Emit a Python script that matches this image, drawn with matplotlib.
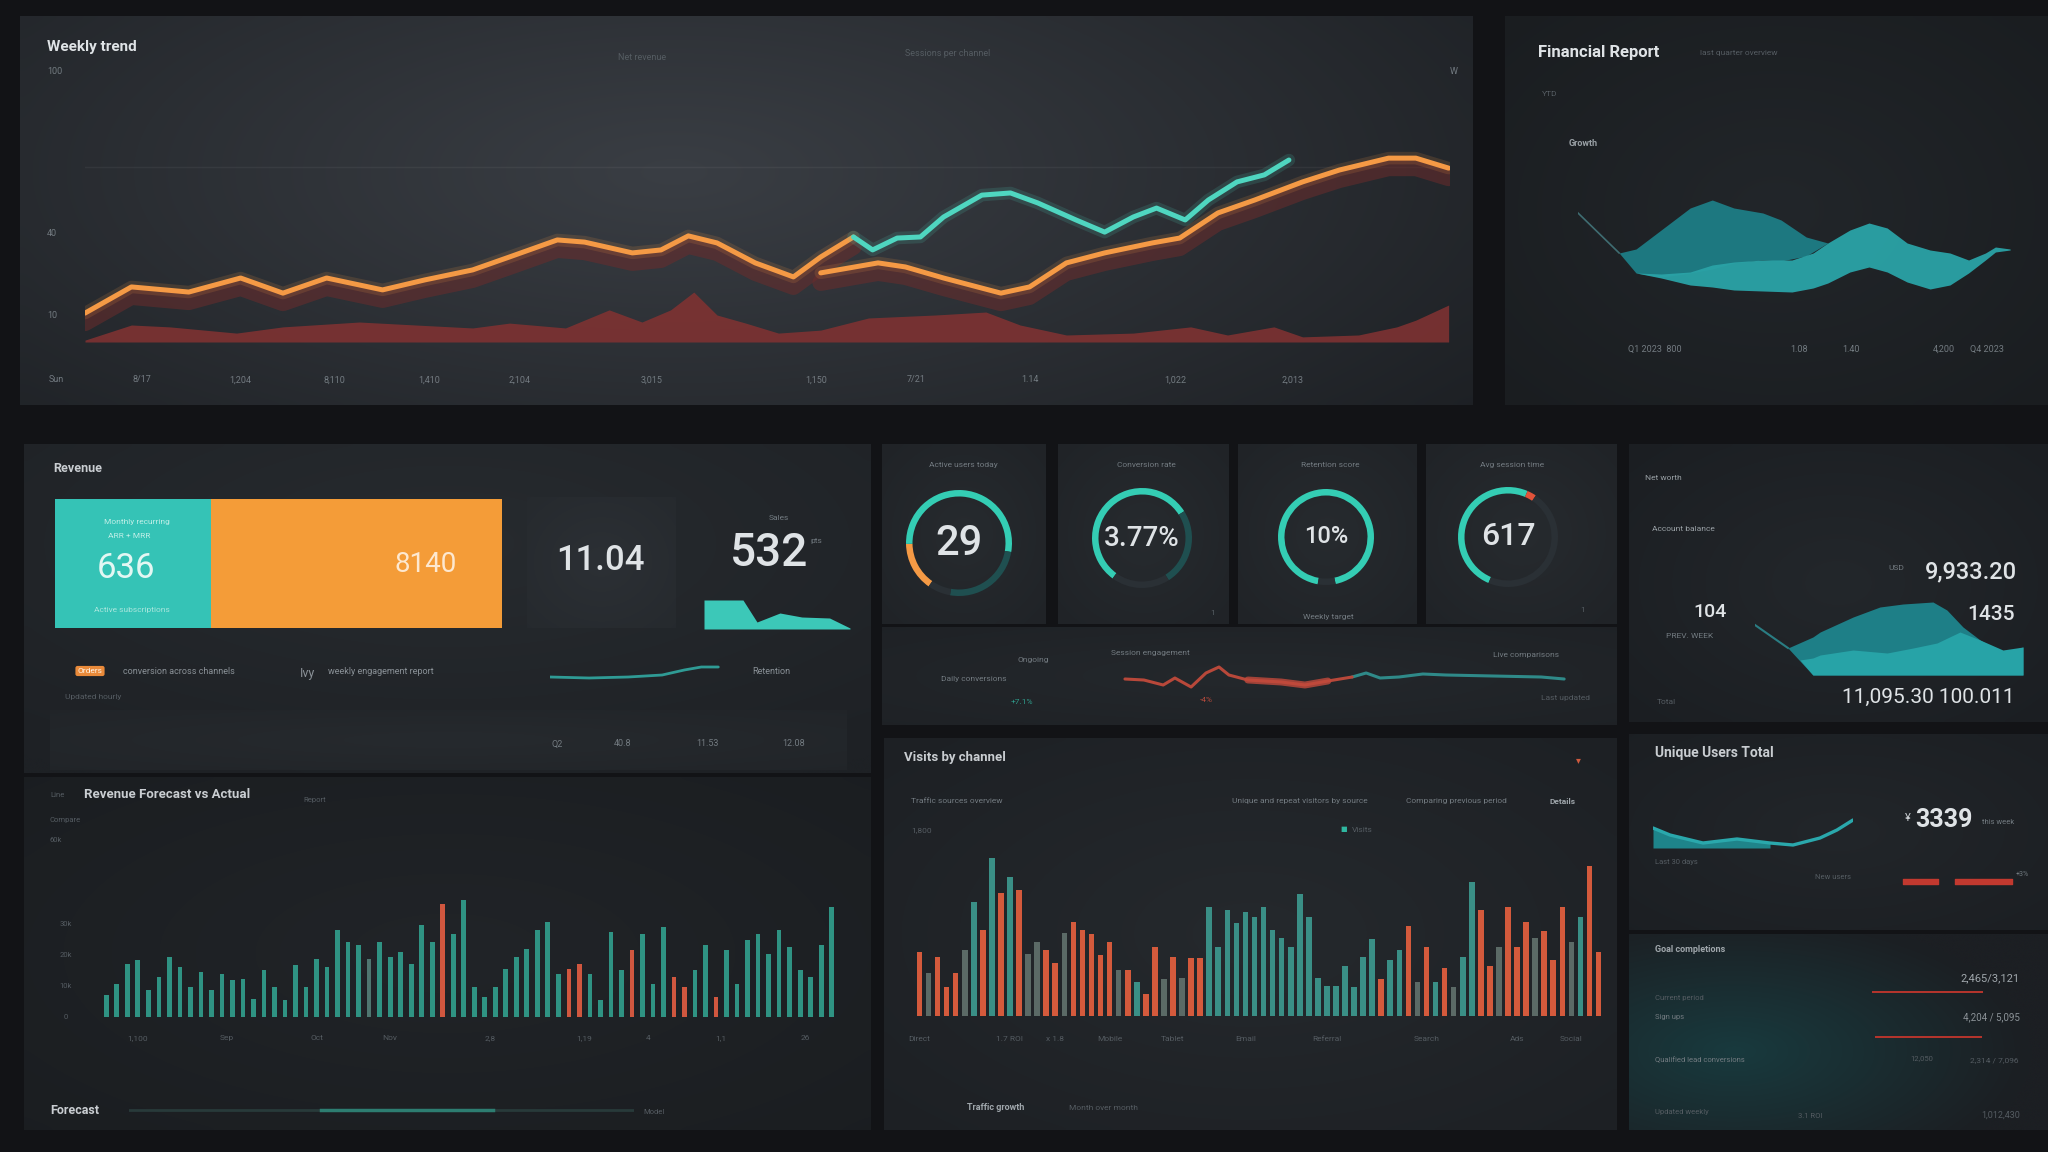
import numpy as np
import matplotlib
matplotlib.use("Agg")
import matplotlib.pyplot as plt
from matplotlib.colors import to_rgb
from matplotlib import transforms

plt.rcParams['font.family'] = ['Roboto', 'DejaVu Sans']

# ======================= DATA =======================
# Weekly trend (top-left): x = % of period, y = index
trend_a_x = [0, 3.4, 7.6, 11.4, 14.5, 17.7, 21.8, 24.9, 28.4, 31.1, 34.6, 36.6, 40.1, 42.2, 44.2, 46.3, 49.1, 51.9, 53.9, 56.3]
trend_a_y = [10.7, 20.4, 18.5, 23.7, 18.1, 23.7, 19.3, 23.0, 26.7, 31.5, 37.8, 37.0, 33.0, 34.1, 39.3, 36.7, 29.3, 24.1, 31.5, 38.9]
trend_t_x = [56.3, 57.7, 59.5, 61.2, 62.9, 65.7, 67.8, 69.8, 72.6, 74.7, 76.8, 78.5, 80.6, 82.3, 84.4, 86.4, 88.2]
trend_t_y = [38.9, 34.1, 38.5, 38.9, 46.3, 54.4, 55.2, 51.5, 45.2, 40.7, 46.3, 49.6, 45.2, 52.6, 59.3, 61.9, 67.4]
trend_b_x = [53.9, 58.1, 60.1, 62.9, 67.1, 69.2, 71.9, 74.7, 78.2, 80.2, 83.0, 85.7, 89.2, 91.9, 95.5, 97.5, 99.9]
trend_b_y = [25.6, 29.3, 27.8, 23.7, 18.1, 20.4, 29.3, 33.0, 36.7, 38.5, 47.8, 52.6, 59.3, 63.7, 68.1, 68.1, 64.4]
volume_x = [0, 3.4, 6.2, 11.1, 14.5, 20.1, 24.2, 28.4, 31.1, 35.2, 38.4, 40.8, 42.9, 44.6, 46.3, 48.4, 50.8,
            53.9, 57.4, 62.3, 66.0, 68.5, 71.9, 76.8, 81.0, 83.7, 87.1, 89.2, 93.3, 96.1, 97.5, 99.9]
volume_y = [0.7, 6.3, 5.6, 3.3, 5.6, 7.4, 6.3, 5.2, 7.0, 5.2, 11.9, 7.4, 11.9, 18.5, 10.0, 7.0, 3.3,
            4.4, 8.9, 10.0, 11.1, 6.3, 2.6, 3.3, 5.6, 2.6, 5.6, 1.9, 2.6, 5.6, 8.1, 13.7]
trend_xticks = [-2.1, 4.2, 11.4, 18.3, 25.2, 31.8, 41.5, 53.6, 60.9, 69.2, 79.9, 88.5]
trend_xlabels = ['Sun', '8/17', '1,204', '8,110', '1,410', '2,104', '3,015', '1,150', '7/21', '1.14', '1,022', '2,013']
trend_yticks = [100, 40, 10]
trend_ylabels = ['100', '40', '10']

# Financial report ribbons (top-right)
fin_lead_x = [0, 9.5]
fin_lead_y = [87, 47]
fin_back_x = [9.5, 13.4, 19.2, 25.9, 31, 36, 42.7, 46.9, 52.7, 57.7]
fin_back_top = [47, 51, 70, 92, 100, 92, 87, 80, 63, 57]
fin_back_bot = [47, 27, 23, 27, 31, 37, 40, 39, 44, 57]
fin_front_x = [13.4, 19.2, 25.9, 31, 36, 42.7, 49.4, 54.3, 57.7, 62.8, 67.2, 71.4, 76, 81.3, 85.9, 90.2, 94.1, 96.4, 99.8]
fin_front_top = [27, 26, 28, 35, 38, 40, 40, 47, 57, 70, 77, 72, 57, 50, 47, 40, 47, 53, 51]
fin_front_bot = [27, 22, 15, 13, 10, 9, 8, 12, 17, 28, 33, 28, 18, 11, 15, 27, 40, 48, 50]
fin_xticks = [17.8, 51.0, 63.0, 84.5, 94.5]
fin_xlabels = ['Q1 2023  800', '1.08', '1.40', '4,200', 'Q4 2023']

# KPI block
kpi_split = [35, 65]
kpi_split_labels = ['636', '8140']
kpi_mid = '11.04'
kpi_right = '532'
spark_x = [0, 26.7, 36.3, 52, 67, 86, 100]
spark_y = [29, 29, 7, 16, 12, 11, 1]
mini_x = [0, 23, 46, 66, 79, 89, 99]
mini_y = [5, 4, 5, 7, 12, 15, 15]
quarter_labels = ['Q2', '40.8', '11.53', '12.08']

# Gauges
gauge_labels = ['29', '3.77%', '10%', '617']
gauge_titles = ['Active users today', 'Conversion rate', 'Retention score', 'Avg session time']
gauge_segments = [[15, 53, 25, 7], [56, 25, 19], [94, 6], [50, 3, 47]]

# Strip line under gauges
strip_x = [1.1, 5.3, 9.6, 12.2, 15.8, 19.1, 22, 24.2, 28.4, 35.8, 41.1, 46.2, 51.6, 54.7, 57.8, 62, 67.3, 72.4, 82.9, 93.6, 98.7]
strip_y = [13, 12, 7, 14, 5, 19, 25, 17, 12, 10, 7, 11, 15, 19, 14, 15, 18, 17, 16, 15, 13]

# Right-middle area chart
rm_lead_x = [0, 12.3]
rm_lead_y = [50, 27]
rm_back_x = [12.3, 21.6, 24.3, 36.6, 46.6, 55.2, 66.4, 71.6, 77.6, 84, 90.3, 94, 100]
rm_back_top = [27, 38, 43, 58, 68, 71, 73, 65, 48, 35, 25, 23, 28]
rm_back_bot = [27, 0, 0, 0, 0, 0, 0, 0, 0, 0, 0, 0, 0]
rm_front_x = [16.8, 21.6, 24.3, 36.6, 49.3, 59, 67.9, 76.5, 84, 92.5, 100]
rm_front_top = [15, 17, 20, 25, 22, 27, 32, 43, 35, 25, 28]
rm_front_bot = [15, 0, 0, 0, 0, 0, 0, 0, 0, 0, 0]

# Bottom-left bars (thousands)
bl_vals = [7.1, 10.6, 17.1, 18.4, 8.7, 12.9, 19.4, 16.1, 9.7, 14.5,
           8.7, 13.9, 11.9, 12.3, 5.8, 15.2, 9.7, 5.5, 16.8, 9.7,
           18.7, 16.1, 28.1, 24.2, 23.2, 18.7, 24.2, 19.4, 21.0, 17.1,
           29.7, 24.2, 36.5, 26.8, 37.7, 9.7, 6.5, 9.7, 15.5, 19.4,
           21.9, 28.1, 30.6, 13.9, 15.5, 17.1, 13.9, 5.5, 27.4, 15.2,
           21.6, 26.8, 10.6, 29.0, 12.9, 9.7, 15.2, 23.2, 6.5, 21.6,
           10.6, 24.8, 26.8, 20.3, 28.1, 22.6, 15.2, 12.9, 23.2, 35.5]
bl_grp = ("tttttttttt" "tttttttttt" "tttttgtttt" "tt" "r" "ttttttttttt" "rr" "tttt" "r"
          "ttt" "rr" "tt" "r" "ttttttttttt")
bl_yticks = [0, 10, 20, 30]
bl_ylabels = ['0', '10k', '20k', '30k']
bl_xlabels = ['1,100', 'Sep', 'Oct', 'Nov', '2,8', '1,19', '4', '1,1', '26']
bl_xpos = [3, 11.5, 20, 27, 36.5, 45.5, 51.5, 58.5, 66.5]

# Bottom-middle bars
bm_vals = [40, 27, 37, 18, 27, 41, 71, 54, 99, 77,
           87, 79, 39, 46, 41, 33, 52, 59, 54, 51,
           38, 46, 29, 29, 21, 14, 43, 23, 37, 24,
           36, 36, 68, 43, 66, 58, 65, 62, 68, 54,
           49, 43, 76, 62, 24, 19, 19, 31, 18, 37,
           48, 23, 35, 41, 56, 21, 43, 21, 30, 18,
           37, 84, 66, 31, 43, 68, 43, 59, 49, 53,
           35, 68, 46, 62, 94, 40]
bm_grp = ("rgrrrgtrtr" "trggrrgrrr" "rrgrtrrgrg" "rrtttttttt" "tttttttttt"
          "trttrgrtrg" "ttrrgrrrgr" "rrgtrr")
bm_xlabels = ['Direct', '1.7 ROI', 'x 1.8', 'Mobile', 'Tablet', 'Email', 'Referral', 'Search', 'Ads', 'Social']
bm_xpos = [0, 10, 15, 21, 28, 36, 45, 56, 66, 72]

# Bottom-right
users_x = [0, 8.5, 25, 42, 58.5, 70, 83.5, 92, 100]
users_y = [22, 15, 7, 11, 7, 5, 12, 20, 30]
users_bar_left = [2.6, 47.8]
users_bar_len = [30.4, 49.6]
goal_rows = [58, 13]
goal_left = [8.6, 10.7]
goal_len = [79.3, 76.4]
forecast_track = [0, 100]
forecast_done = [38, 72]

# ======================= STYLE / LAYOUT =======================
W, H = 2048, 1152
TEAL = '#3ccdb9'
ORANGE = '#f59a45'
RED = '#cf5a3e'
TXT = '#dfe3e6'
DIM = '#737b81'
DIMMER = '#555c62'

fig = plt.figure(figsize=(W / 100, H / 100), dpi=100)
fig.patch.set_facecolor('#121316')


def rect(x0, y0, x1, y1):
    return [x0 / W, 1 - y1 / H, (x1 - x0) / W, (y1 - y0) / H]


def panel(box, c_in, c_out, cx=0.5, cy=0.5, sx=0.8, sy=0.8):
    ax = fig.add_axes(rect(*box), zorder=0)
    ax.set_axis_off()
    yy, xx = np.mgrid[0:1:80j, 0:1:120j]
    t = np.clip(np.sqrt(((xx - cx) / sx) ** 2 + ((yy - cy) / sy) ** 2), 0, 1)[..., None]
    img = np.array(to_rgb(c_in)) * (1 - t) + np.array(to_rgb(c_out)) * t
    ax.imshow(img, extent=[0, 1, 0, 1], aspect='auto', interpolation='bicubic')
    return ax


def chart(box, xlim, ylim):
    ax = fig.add_axes(rect(*box), zorder=2)
    ax.set_xlim(*xlim)
    ax.set_ylim(*ylim)
    ax.set_axis_off()
    return ax


def T(x, y, s, size=6.5, color=DIM, weight='normal', ha='left', va='center', **kw):
    fig.text(x / W, 1 - y / H, s, fontsize=size, color=color, fontweight=weight,
             ha=ha, va=va, **kw)


# ---------------- panels ----------------
panel((20, 16, 1473, 405), '#3a3e44', '#1b1e22', cx=0.45, cy=0.4, sx=0.75, sy=1.1)
panel((1505, 16, 2048, 405), '#22262a', '#191c1f', cx=0.5, cy=0.5)
panel((24, 444, 871, 773), '#272b2f', '#1e2125', cx=0.5, cy=0.3)
for box in [(882, 444, 1046, 624), (1058, 444, 1229, 624), (1238, 444, 1417, 624), (1426, 444, 1617, 624)]:
    panel(box, '#272b2f', '#1f2226')
panel((882, 627, 1617, 725), '#24282c', '#1e2125')
panel((1629, 444, 2048, 722), '#23272b', '#1a1d21')
panel((24, 777, 871, 1130), '#212428', '#1a1d20', cx=0.5, cy=0.5)
panel((884, 738, 1617, 1130), '#25292d', '#1c1f23')
panel((1629, 734, 2048, 930), '#22262a', '#1b1e22')
panel((1629, 934, 2048, 1130), '#183a3e', '#1c1f23', cx=0.25, cy=0.6, sx=0.7, sy=0.7)

# ---------------- Weekly trend ----------------
ax = chart((85, 72, 1450, 342), (0, 100), (0, 100))
ax.axhline(64.8, color='white', alpha=0.05, lw=1)
ax.fill_between(volume_x, 0, volume_y, color='#7e3232', alpha=0.9, lw=0)
shadow = transforms.offset_copy(ax.transData, fig=fig, x=0, y=-7, units='points')
for xs, ys in [(trend_a_x, trend_a_y), (trend_b_x, trend_b_y)]:
    ax.plot(xs, ys, color='#6b2c2c', lw=12, alpha=0.55, transform=shadow,
            solid_joinstyle='round', solid_capstyle='round')
for xs, ys, c in [(trend_a_x, trend_a_y, ORANGE), (trend_b_x, trend_b_y, ORANGE), (trend_t_x, trend_t_y, '#4fd6c0')]:
    ax.plot(xs, ys, color=c, lw=9, alpha=0.15, solid_capstyle='round')
    ax.plot(xs, ys, color=c, lw=3.6, solid_joinstyle='round', solid_capstyle='round')
for xv, lab in zip(trend_xticks, trend_xlabels):
    ax.text(xv, -0.14, lab, transform=ax.get_xaxis_transform(), fontsize=6.5, color=DIM,
            ha='center', va='center')
for yv, lab in zip(trend_yticks, trend_ylabels):
    ax.text(-0.028, yv, lab, transform=ax.get_yaxis_transform(), fontsize=6.5, color=DIM,
            ha='left', va='center')
T(47, 47, 'Weekly trend', 11, TXT, 'bold')
T(642, 57, 'Net revenue', 6.5, DIMMER, ha='center')
T(948, 53, 'Sessions per channel', 6.5, DIMMER, ha='center')
T(1454, 71, 'W', 6.5, DIM, ha='center')

# ---------------- Financial report ----------------
ax = chart((1578, 200, 2011, 300), (0, 100), (0, 100))
ax.plot(fin_lead_x, fin_lead_y, color='#3f6d72', lw=1.2)
ax.fill_between(fin_back_x, fin_back_bot, fin_back_top, color='#1d7880', lw=0)
ax.fill_between(fin_front_x, fin_front_bot, fin_front_top, color='#2aa3a7', alpha=0.95, lw=0)
for xv, lab in zip(fin_xticks, fin_xlabels):
    ax.text(xv, -0.49, lab, transform=ax.get_xaxis_transform(), fontsize=6.5, color=DIM,
            ha='center', va='center')
T(1538, 52, 'Financial Report', 12, TXT, 'bold')
T(1700, 53, 'last quarter overview', 6, DIMMER)
T(1542, 94, 'YTD', 6, DIMMER)
T(1569, 144, 'Growth', 6.5, '#9aa1a6', 'bold')

# ---------------- KPI block ----------------
T(53, 469, 'Revenue', 9, '#c9cdd1', 'bold')
ax = chart((55, 499, 502, 628), (0, 100), (-0.5, 0.5))
ax.barh([0], [kpi_split[0]], height=1, color='#35c3b6', lw=0)
ax.barh([0], [kpi_split[1]], left=[kpi_split[0]], height=1, color='#f49c38', lw=0)
T(137, 522, 'Monthly recurring', 6, '#bfeee7', ha='center')
T(129, 536, 'ARR + MRR', 6, '#bfeee7', ha='center')
T(126, 568, kpi_split_labels[0], 25, '#e3f7f3', ha='center')
T(132, 610, 'Active subscriptions', 6, '#a9e6dd', ha='center')
T(426, 565, kpi_split_labels[1], 20, '#fde8d0', ha='center')
panel((527, 497, 676, 628), '#2c3035', '#25292d')
T(600, 560, kpi_mid, 25, TXT, 'medium', ha='center')
T(779, 518, 'Sales', 6, DIM, ha='center')
T(769, 553, kpi_right, 33, TXT, 'medium', ha='center')
T(816, 541, 'pts', 6, DIM, ha='center')
ax = chart((704, 595, 850, 629), (0, 100), (0, 34))
ax.fill_between(spark_x, 0, spark_y, color='#3cc8b8', lw=0)
T(90, 671, 'Orders', 6, '#fff3e6', ha='center',
  bbox=dict(boxstyle='round,pad=0.25', fc='#e98a3a', ec='none'))
T(123, 671, 'conversion across channels', 6.5, '#8a9197')
T(300, 673, 'Ivy', 9, '#8a9197')
T(328, 671, 'weekly engagement report', 6.5, '#8a9197')
T(752, 671, 'Retention', 6.5, '#8a9197')
T(65, 697, 'Updated hourly', 6, DIMMER)
ax = chart((550, 662, 720, 682), (0, 100), (0, 20))
ax.plot(mini_x, mini_y, color='#2f9b95', lw=2, solid_capstyle='round')
panel((50, 710, 847, 770), '#262a2e', '#212428')
for xv, lab in zip([557, 623, 707, 794], quarter_labels):
    T(xv, 744, lab, 6.5, DIM, ha='center')

# ---------------- Gauges ----------------
g_centers = [(959, 543, 53), (1142, 538, 50), (1326, 537, 48), (1508, 537, 50)]
g_starts = [235, 234, 260, 247]
g_colors = [[ORANGE, '#34cdb4', '#1f4f50', '#2a3035'],
            ['#34cdb4', '#1f4f50', '#2a3035'],
            ['#34cdb4', '#2a3035'],
            ['#34cdb4', '#e2533a', '#2a3035']]
g_sizes = [30, 20, 17, 23]
for (cx, cy, r), segs, cols, st, lab, tt, fs in zip(g_centers, gauge_segments, g_colors, g_starts,
                                                   gauge_labels, gauge_titles, g_sizes):
    s = 1.2 * r
    ax = fig.add_axes(rect(cx - s, cy - s, cx + s, cy + s), zorder=2)
    ax.pie(segs, colors=cols, startangle=st, counterclock=False, radius=1,
           wedgeprops=dict(width=6.5 / r, edgecolor='none'))
    ax.set_xlim(-1.2, 1.2)
    ax.set_ylim(-1.2, 1.2)
    T(cx, cy, lab, fs, TXT, 'medium', ha='center')
    T(cx + 4, 465, tt, 6, DIM, ha='center')
T(1328, 617, 'Weekly target', 6, DIM, ha='center')
T(1213, 613, '1', 6, DIMMER, ha='center')
T(1583, 610, '1', 6, DIMMER, ha='center')

# ---------------- strip line ----------------
ax = chart((1120, 660, 1570, 692), (0, 100), (0, 32))
ax.plot(strip_x[12:], strip_y[12:], color='#2f8a89', lw=2.2, solid_capstyle='round')
ax.plot(strip_x[:13], strip_y[:13], color='#b8483a', lw=2.2, solid_capstyle='round')
ax.plot(strip_x[8:12], strip_y[8:12], color='#c24a3c', lw=5, alpha=0.8, solid_capstyle='round')
T(941, 679, 'Daily conversions', 6, DIM)
T(1017, 660, 'Ongoing', 6, DIM)
T(1111, 653, 'Session engagement', 6, DIM)
T(1493, 655, 'Live comparisons', 6, DIM)
T(1541, 698, 'Last updated', 6, DIMMER)
T(1206, 700, '-4%', 6, '#b64a3c', ha='center')
T(1022, 702, '+7.1%', 6, '#2f9a8a', ha='center')

# ---------------- right-middle ----------------
ax = chart((1755, 600, 2023, 675), (0, 100), (0, 75))
ax.plot(rm_lead_x, rm_lead_y, color='#2a7d83', lw=1.5)
ax.fill_between(rm_back_x, rm_back_bot, rm_back_top, color='#1e7f87', lw=0)
ax.fill_between(rm_front_x, rm_front_bot, rm_front_top, color='#27a3a7', lw=0)
T(1645, 478, 'Net worth', 6, '#9aa1a6')
T(1652, 529, 'Account balance', 6, '#9aa1a6')
T(1710, 612, '104', 14, TXT, 'medium', ha='center')
T(1690, 636, 'PREV. WEEK', 6, DIM, ha='center')
T(1657, 702, 'Total', 6, DIMMER)
T(2017, 572, '9,933.20', 17, TXT, 'medium', ha='right')
T(1904, 568, 'USD', 6, DIM, ha='right')
T(2015, 615, '1435', 15, TXT, 'medium', ha='right')
T(2015, 697, '11,095.30 100.011', 15, TXT, ha='right')

# ---------------- bottom-left bars ----------------
ax = chart((100, 840, 838, 1017), (-0.6, len(bl_vals) - 0.4), (0, 57.1))
bl_cmap = {'t': '#2f9383', 'g': '#4f7670', 'r': '#d0573f'}
ax.bar(range(len(bl_vals)), bl_vals, width=0.45, color=[bl_cmap[g] for g in bl_grp], lw=0)
for yv, lab in zip(bl_yticks, bl_ylabels):
    ax.text(-0.046, yv, lab, transform=ax.get_yaxis_transform(), fontsize=5.5, color=DIMMER,
            ha='center', va='center')
for xv, lab in zip(bl_xpos, bl_xlabels):
    ax.text(xv, -0.12, lab, transform=ax.get_xaxis_transform(), fontsize=6, color=DIMMER,
            ha='center', va='center')
T(50, 795, 'Line', 5.5, DIMMER)
T(84, 795, 'Revenue Forecast vs Actual', 9.5, '#c9cdd1', 'bold')
T(303, 800, 'Report', 5.5, DIMMER)
T(50, 820, 'Compare', 5.5, DIMMER)
T(50, 840, '60k', 5.5, DIMMER)
T(50, 1110, 'Forecast', 9, '#c9cdd1', 'bold')
T(654, 1112, 'Model', 5.5, DIMMER, ha='center')
ax = chart((129, 1106, 634, 1114), (0, 100), (0, 1))
ax.plot(forecast_track, [0.5, 0.5], color='#283a3a', lw=2)
ax.plot(forecast_done, [0.5, 0.5], color='#2f8f80', lw=2.5, alpha=0.8)

# ---------------- bottom-middle bars ----------------
ax = chart((914, 840, 1604, 1016), (-0.6, len(bm_vals) - 0.4), (0, 110))
bm_cmap = {'t': '#3a8f86', 'g': '#5b6a66', 'r': '#d45a3c'}
ax.bar(range(len(bm_vals)), bm_vals, width=0.62, color=[bm_cmap[g] for g in bm_grp], lw=0)
for xv, lab in zip(bm_xpos, bm_xlabels):
    ax.text(xv, -0.13, lab, transform=ax.get_xaxis_transform(), fontsize=6, color=DIMMER,
            ha='center', va='center')
T(904, 758, 'Visits by channel', 9.5, '#c9cdd1', 'bold')
T(1578, 760, '▾', 7, RED, ha='center')
T(911, 801, 'Traffic sources overview', 6, DIM)
T(1232, 801, 'Unique and repeat visitors by source', 6, DIM)
T(1406, 801, 'Comparing previous period', 6, DIM)
T(1550, 801, 'Details', 6, '#a0a7ac', 'bold')
T(911, 830, '1,800', 6, DIMMER)
T(1344, 830, '■', 5, '#2fb7a0', ha='center')
T(1352, 830, 'Visits', 6, DIMMER)
T(967, 1108, 'Traffic growth', 6.5, '#a0a7ac', 'bold')
T(1069, 1108, 'Month over month', 6, DIMMER)

# ---------------- bottom-right ----------------
ax = chart((1653, 810, 1853, 850), (0, 100), (0, 40))
ax.fill_between(users_x, 2, users_y, where=[x <= 58.5 for x in users_x],
                color='#1f9096', lw=0, alpha=0.9)
ax.plot(users_x, users_y, color='#2aa8ac', lw=2.4, solid_capstyle='round')
T(1655, 753, 'Unique Users Total', 10, '#c9cdd1', 'bold')
T(1655, 862, 'Last 30 days', 5.5, DIMMER)
T(1815, 877, 'New users', 5.5, DIMMER)
T(1905, 818, '¥', 8, '#c9cdd1')
T(1944, 820, '3339', 18, TXT, 'bold', ha='center')
T(1982, 822, 'this week', 5.5, DIM)
ax = chart((1900, 876, 2015, 888), (0, 100), (0, 1))
ax.broken_barh(list(zip(users_bar_left, users_bar_len)), (0.3, 0.45), color='#c2392f')
T(2016, 875, '+3%', 5, DIM)

ax = chart((1860, 980, 2000, 1050), (0, 100), (0, 70))
ax.barh(goal_rows, goal_len, left=goal_left, height=2.2, color='#b3342c', lw=0)
T(1655, 950, 'Goal completions', 6.5, '#a0a7ac', 'bold')
T(2020, 978, '2,465/3,121', 8, '#a0a7ac', ha='right')
T(1655, 998, 'Current period', 5.5, DIMMER)
T(1655, 1017, 'Sign ups', 5.5, DIM)
T(2020, 1017, '4,204 / 5,095', 7, '#8b9297', ha='right')
T(1655, 1060, 'Qualified lead conversions', 5.5, DIM)
T(1922, 1058, '12,050', 5.5, DIMMER, ha='center')
T(2018, 1060, '2,314 / 7,096', 6, DIMMER, ha='right')
T(1655, 1112, 'Updated weekly', 5.5, DIMMER)
T(1810, 1116, '3.1 ROI', 5.5, DIMMER, ha='center')
T(2020, 1115, '1,012,430', 6.5, DIMMER, ha='right')

fig.savefig('out.png', dpi=100, facecolor=fig.get_facecolor())
